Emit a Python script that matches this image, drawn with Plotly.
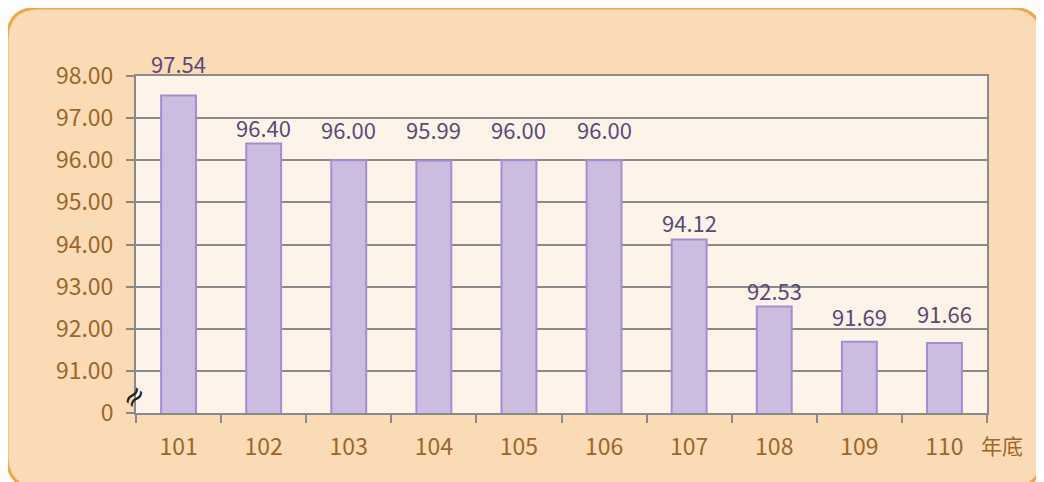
import plotly.graph_objects as go

categories = ["101", "102", "103", "104", "105", "106", "107", "108", "109", "110"]
values = [97.54, 96.40, 96.00, 95.99, 96.00, 96.00, 94.12, 92.53, 91.69, 91.66]
labels = ["97.54", "96.40", "96.00", "95.99", "96.00", "96.00", "94.12", "92.53", "91.69", "91.66"]
label_shift = [32, 16, 31, 32, 31, 31, 17, 16, 26, 30]  # label lift above bar top (px)
y_ticks = [90, 91, 92, 93, 94, 95, 96, 97, 98]
y_ticktext = ["0", "91.00", "92.00", "93.00", "94.00", "95.00", "96.00", "97.00", "98.00"]

OFF = 8  # page body margin offset
W, H = 1036, 474
L, R, T, B = 136 - OFF, 987 - OFF, 76 - OFF, 413 - OFF

def px(x):
    return (x - OFF - L) / (R - L)

def py(y):
    return (B - (y - OFF)) / (B - T)

# rounded background box (page pixel coords -> paper coords)
x0, x1, y0, y1, r = 7, 1042, 8, 488, 32
path = (
    f"M {px(x0 + r)},{py(y0)} L {px(x1 - r)},{py(y0)} "
    f"Q {px(x1)},{py(y0)} {px(x1)},{py(y0 + r)} "
    f"L {px(x1)},{py(y1 - r)} Q {px(x1)},{py(y1)} {px(x1 - r)},{py(y1)} "
    f"L {px(x0 + r)},{py(y1)} Q {px(x0)},{py(y1)} {px(x0)},{py(y1 - r)} "
    f"L {px(x0)},{py(y0 + r)} Q {px(x0)},{py(y0)} {px(x0 + r)},{py(y0)} Z"
)

font_family = "Noto Sans CJK TC, Open Sans, sans-serif"

fig = go.Figure(
    go.Bar(
        x=categories,
        y=values,
        width=0.41,
        marker=dict(color="#CBBCE0", line=dict(color="#A68DD2", width=2)),
        cliponaxis=False,
        hoverinfo="skip",
    )
)

annotations = [
    dict(
        x=i, y=v, xref="x", yref="y",
        text=t, showarrow=False,
        xanchor="center", yanchor="middle", yshift=s,
        font=dict(size=22, color="#5A4A78", family=font_family),
    )
    for i, (v, t, s) in enumerate(zip(values, labels, label_shift))
]
annotations += [
    dict(
        text="年底",
        x=px(1002),
        y=py(445),
        xref="paper",
        yref="paper",
        xanchor="center",
        yanchor="middle",
        showarrow=False,
        font=dict(size=21, color="#A0652A", family=font_family),
    ),
    dict(
        text="≈",
        x=px(133),
        y=py(397),
        xref="paper",
        yref="paper",
        xanchor="center",
        yanchor="middle",
        showarrow=False,
        textangle=-50,
        font=dict(size=28, color="#222222", family="DejaVu Sans"),
    ),
]

fig.update_layout(
    width=W,
    height=H,
    margin=dict(l=L, r=W - R, t=T, b=H - B),
    paper_bgcolor="white",
    plot_bgcolor="#FEF3E8",
    showlegend=False,
    bargap=0.59,
    font=dict(family=font_family),
    shapes=[
        dict(
            type="path",
            path=path,
            xref="paper",
            yref="paper",
            fillcolor="#FADBB5",
            line=dict(color="#F2A547", width=3),
            layer="below",
        ),
        dict(
            type="rect",
            x0=0, x1=1, y0=0, y1=1,
            xref="paper",
            yref="paper",
            fillcolor="#FEF3E8",
            line=dict(width=0),
            layer="below",
        ),
    ],
    annotations=annotations,
)

fig.update_xaxes(
    type="category",
    range=[-0.5, len(categories) - 0.5],
    tickson="boundaries",
    ticks="outside",
    ticklen=8,
    tickwidth=2,
    tickcolor="#8A8A8A",
    showline=True,
    linecolor="#8A8A8A",
    linewidth=2,
    mirror=True,
    showgrid=False,
    tickfont=dict(size=23, color="#A0652A", family=font_family),
    ticklabelstandoff=12,
)

fig.update_yaxes(
    range=[90, 98],
    tickvals=y_ticks,
    ticktext=y_ticktext,
    ticks="outside",
    ticklen=8,
    tickwidth=2,
    tickcolor="#8A8A8A",
    showline=True,
    linecolor="#8A8A8A",
    linewidth=2,
    mirror=True,
    showgrid=True,
    gridcolor="#8A8A8A",
    gridwidth=1.5,
    zeroline=False,
    tickfont=dict(size=23, color="#A0652A", family=font_family),
    ticklabelstandoff=8,
)

fig.write_html("out.html")
